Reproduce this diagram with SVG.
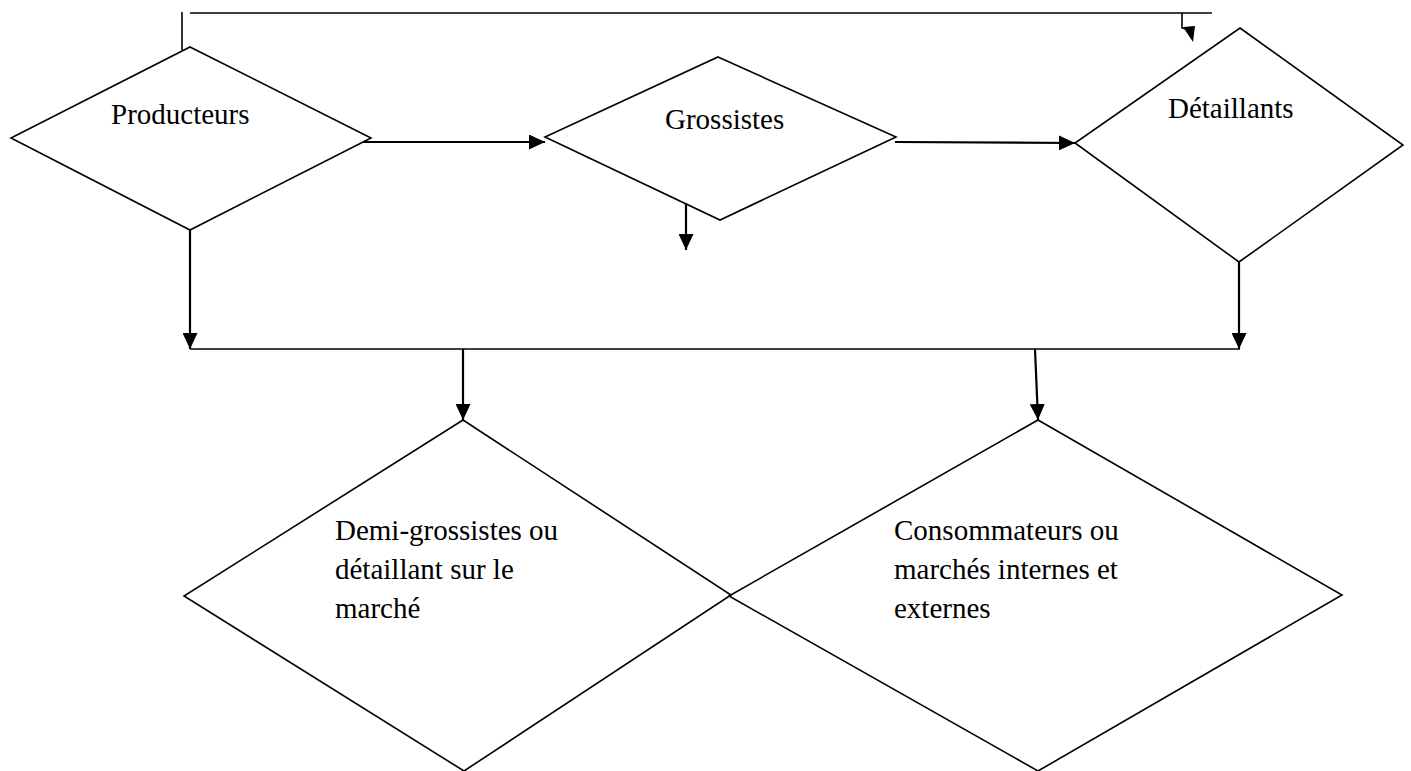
<svg xmlns="http://www.w3.org/2000/svg" width="1411" height="771" viewBox="0 0 1411 771">
<style>
.node{fill:none;stroke:#000;stroke-width:1.6}
.conn{fill:none;stroke:#000;stroke-width:2.2}
.thin{fill:none;stroke:#000;stroke-width:1.6}
.lbl{font-family:"Liberation Serif","Times New Roman",serif;font-size:29px;fill:#000}
</style>
<defs>
<marker id="ah" markerWidth="16" markerHeight="15" refX="16" refY="7.5" orient="auto" markerUnits="userSpaceOnUse">
<path d="M0,0 L16,7.5 L0,15 Z" fill="#000"/>
</marker>
</defs>
<rect width="1411" height="771" fill="#fff"/>
<g id="producteurs">
<polygon class="node" points="190,47 371,138 190,230 11,138"/>
<text class="lbl" x="111" y="124">Producteurs</text>
</g>
<g id="grossistes">
<polygon class="node" points="718,57 896,137 720,220 545,137"/>
<text class="lbl" x="665" y="129">Grossistes</text>
</g>
<g id="detaillants">
<polygon class="node" points="1240,28 1403,145 1239,262 1075,143"/>
<text class="lbl" x="1168" y="118">Détaillants</text>
</g>
<g id="demi-grossistes">
<polygon class="node" points="463,420 731,595 464,771 184,596"/>
<text class="lbl" x="335" y="540">Demi-grossistes ou</text>
<text class="lbl" x="335" y="579">détaillant sur le</text>
<text class="lbl" x="335" y="618">marché</text>
</g>
<g id="consommateurs">
<polygon class="node" points="1038,420 1342,595 1038,771 729,596"/>
<text class="lbl" x="894" y="540">Consommateurs ou</text>
<text class="lbl" x="894" y="579">marchés internes et</text>
<text class="lbl" x="894" y="618">externes</text>
</g>
<g id="connectors">
<line class="thin" x1="182" y1="12" x2="182" y2="50"/>
<line class="thin" x1="190" y1="13" x2="1212" y2="13"/>
<path class="thin" d="M1182,13 V28 L1186,29"/>
<polygon points="1183,27 1195,26 1193,42" fill="#000"/>
<line class="conn" x1="363" y1="142" x2="545" y2="142" marker-end="url(#ah)"/>
<line class="conn" x1="895" y1="142" x2="1075" y2="143" marker-end="url(#ah)"/>
<line class="conn" x1="686" y1="203" x2="686" y2="250" marker-end="url(#ah)"/>
<line class="conn" x1="190" y1="230" x2="190" y2="349" marker-end="url(#ah)"/>
<line class="conn" x1="1239" y1="262" x2="1239" y2="349" marker-end="url(#ah)"/>
<line class="thin" x1="190" y1="349" x2="1240" y2="349"/>
<line class="conn" x1="463" y1="349" x2="463" y2="420" marker-end="url(#ah)"/>
<line class="conn" x1="1035" y1="349" x2="1038" y2="420" marker-end="url(#ah)"/>
</g>
</svg>
